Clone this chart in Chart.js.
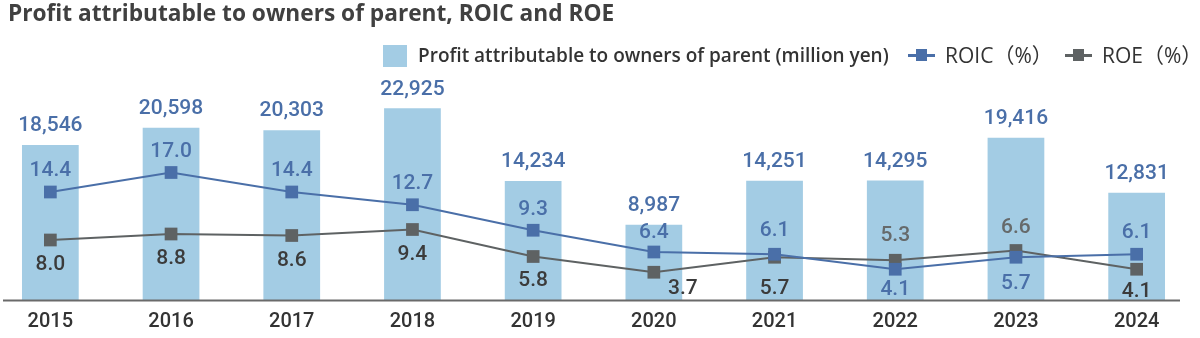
<!DOCTYPE html>
<html>
<head>
<meta charset="utf-8">
<script src="https://cdn.jsdelivr.net/npm/chart.js@4.4.1/dist/chart.umd.min.js"></script>
<style>
  html, body { margin: 0; padding: 0; background: #fff; overflow: hidden; }
  #wrap { position: relative; width: 1200px; height: 338px; }
  #profitChart { position: absolute; left: -10px; top: 0; }
</style>
</head>
<body>
<div id="wrap">
  <canvas id="profitChart" width="1220" height="338"></canvas>
</div>
<script>
// ---- data ----
const years = ['2015', '2016', '2017', '2018', '2019', '2020', '2021', '2022', '2023', '2024'];
const profit = [18546, 20598, 20303, 22925, 14234, 8987, 14251, 14295, 19416, 12831];
const roic = [14.4, 17.0, 14.4, 12.7, 9.3, 6.4, 6.1, 4.1, 5.7, 6.1];
const roe = [8.0, 8.8, 8.6, 9.4, 5.8, 3.7, 5.7, 5.3, 6.6, 4.1];

// label offsets (px) from each point, positive = below
const roicLabelDy = [-21, -21, -21, -21, -21, -19, -24, 20, 26, -22];
const roeLabelDy = [25, 25, 25, 25, 24, 16, 31, -25, -23, 22];
const roeLabelDx = [0, 0, 0, 0, 0, 29, 0, 0, 0, 0];

const BLUE = '#4a6fa8';
const BAR = '#a3cce4';
const GRAY = '#5e6263';
const FONT = "Roboto, 'Noto Sans', sans-serif";
const TFONT = "'Open Sans', 'Noto Sans CJK JP', sans-serif";

const fmt = n => n.toLocaleString('en-US');

// draws title, legend, value labels, year labels and baseline
const decorations = {
    id: 'decorations',
    afterDatasetsDraw(chart) {
        const ctx = chart.ctx;
        const x = chart.scales.x;
        ctx.save();

        // baseline
        ctx.strokeStyle = '#6a6a6a';
        ctx.lineWidth = 2;
        ctx.beginPath();
        ctx.moveTo(13, 300.5);
        ctx.lineTo(1190, 300.5);
        ctx.stroke();

        ctx.textAlign = 'center';
        ctx.textBaseline = 'middle';

        // bar values
        ctx.font = '500 21px ' + FONT;
        ctx.fillStyle = BLUE;
        chart.getDatasetMeta(0).data.forEach((el, i) => {
            ctx.fillText(fmt(profit[i]), el.x, el.y - 19);
        });

        // ROIC values
        chart.getDatasetMeta(1).data.forEach((el, i) => {
            ctx.fillStyle = BLUE;
            ctx.fillText(roic[i].toFixed(1), el.x, el.y + roicLabelDy[i]);
        });

        // ROE values
        chart.getDatasetMeta(2).data.forEach((el, i) => {
            ctx.fillStyle = roeLabelDy[i] < 0 ? '#666a6b' : '#3b3b3b';
            ctx.fillText(roe[i].toFixed(1), el.x + roeLabelDx[i], el.y + roeLabelDy[i]);
        });

        // year labels
        ctx.font = '500 20px ' + FONT;
        ctx.fillStyle = '#333333';
        years.forEach((y, i) => {
            ctx.fillText(y, x.getPixelForValue(i), 322);
        });

        // title
        ctx.textAlign = 'left';
        ctx.font = 'bold 22.7px ' + TFONT;
        ctx.fillStyle = '#404040';
        ctx.fillText('Profit attributable to owners of parent, ROIC and ROE', 18, 15);

        // legend
        ctx.fillStyle = BAR;
        ctx.fillRect(393, 45, 24, 22);
        ctx.font = '600 19px ' + TFONT;
        ctx.fillStyle = '#333333';
        ctx.fillText('Profit attributable to owners of parent (million yen)', 428, 57);

        const lineItem = (x0, color, label) => {
            ctx.strokeStyle = color;
            ctx.lineWidth = 3;
            ctx.beginPath();
            ctx.moveTo(x0, 55.5);
            ctx.lineTo(x0 + 27, 55.5);
            ctx.stroke();
            ctx.fillStyle = color;
            ctx.fillRect(x0 + 8, 49, 11, 12);
            ctx.font = '21px ' + TFONT;
            ctx.fillStyle = '#333333';
            ctx.fillText(label, x0 + 37, 57);
        };
        lineItem(918, BLUE, 'ROIC（%）');
        lineItem(1075, GRAY, 'ROE（%）');

        ctx.restore();
    }
};

const chart = new Chart(document.getElementById('profitChart'), {
    data: {
        labels: years,
        datasets: [
            {
                type: 'bar',
                label: 'Profit attributable to owners of parent (million yen)',
                data: profit,
                backgroundColor: BAR,
                categoryPercentage: 1,
                barPercentage: 0.47,
                yAxisID: 'y',
                order: 3
            },
            {
                type: 'line',
                label: 'ROIC（%）',
                data: roic,
                borderColor: BLUE,
                backgroundColor: BLUE,
                borderWidth: 2,
                pointStyle: 'rect',
                pointRadius: 9,
                pointBackgroundColor: BLUE,
                pointBorderWidth: 0,
                tension: 0,
                yAxisID: 'y2',
                order: 1
            },
            {
                type: 'line',
                label: 'ROE（%）',
                data: roe,
                borderColor: GRAY,
                backgroundColor: GRAY,
                borderWidth: 2,
                pointStyle: 'rect',
                pointRadius: 9,
                pointBackgroundColor: GRAY,
                pointBorderWidth: 0,
                tension: 0,
                yAxisID: 'y2',
                order: 2
            }
        ]
    },
    options: {
        responsive: false,
        animation: false,
        devicePixelRatio: 1,
        layout: { autoPadding: false, padding: { left: 0, right: 13, top: 60, bottom: 38 } },
        plugins: {
            legend: { display: false },
            title: { display: false },
            tooltip: { enabled: false }
        },
        scales: {
            x: { type: 'category', display: false, offset: true },
            y: { display: false, min: 0, max: 28700 },
            y2: { display: false, min: 0, max: 32 }
        }
    },
    plugins: [decorations]
});
</script>
</body>
</html>
